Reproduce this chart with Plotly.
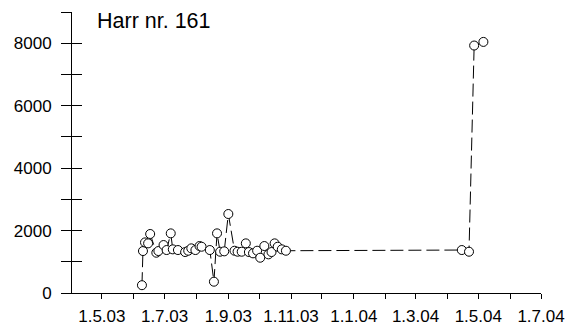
import plotly.graph_objects as go

dates = ["2003-06-09", "2003-06-10", "2003-06-12", "2003-06-15", "2003-06-17",
         "2003-06-23", "2003-06-25", "2003-06-30", "2003-07-03", "2003-07-07",
         "2003-07-09", "2003-07-14", "2003-07-21", "2003-07-24", "2003-07-27",
         "2003-07-31", "2003-08-04", "2003-08-06", "2003-08-14", "2003-08-18",
         "2003-08-21", "2003-08-24", "2003-08-28", "2003-09-01", "2003-09-07",
         "2003-09-10", "2003-09-14", "2003-09-18", "2003-09-21", "2003-09-25",
         "2003-09-29", "2003-10-02", "2003-10-06", "2003-10-10", "2003-10-13",
         "2003-10-16", "2003-10-19", "2003-10-23", "2003-10-27",
         "2004-04-15", "2004-04-22", "2004-04-27", "2004-05-06"]
values = [250, 1344, 1620, 1590, 1890,
          1290, 1344, 1536, 1376, 1910,
          1398, 1376, 1312, 1354, 1430,
          1376, 1504, 1482, 1376, 362,
          1910, 1322, 1334, 2530, 1354,
          1322, 1322, 1590, 1312, 1270,
          1354, 1130, 1504, 1238, 1312,
          1590, 1482, 1398, 1354,
          1376, 1322, 7926, 8042]

title_text = "Harr nr. 161"

y_tickvals = [0, 1000, 2000, 3000, 4000, 5000, 6000, 7000, 8000, 9000]
y_ticktext = ["0", "", "2000", "", "4000", "", "6000", "", "8000", ""]

x_tickvals = ["2003-05-01", "2003-06-01", "2003-07-01", "2003-08-01", "2003-09-01",
              "2003-10-01", "2003-11-01", "2003-12-01", "2004-01-01", "2004-02-01",
              "2004-03-01", "2004-04-01", "2004-05-01", "2004-06-01", "2004-07-01"]
x_ticktext = ["1.5.03", "", "1.7.03", "", "1.9.03", "", "1.11.03", "", "1.1.04", "",
              "1.3.04", "", "1.5.04", "", "1.7.04"]

FONT = "Liberation Sans, Arial, sans-serif"

fig = go.Figure()
fig.add_trace(go.Scatter(
    x=dates, y=values, mode="lines+markers",
    line=dict(color="black", width=1, dash="13px,5px"),
    marker=dict(symbol="circle", size=9, color="white",
                line=dict(color="black", width=1)),
    showlegend=False, cliponaxis=False,
))
# invisible trace on overlay axis to force it to render
fig.add_trace(go.Scatter(x=[dates[0]], y=[values[0]], yaxis="y2",
                         mode="markers", marker=dict(opacity=0),
                         showlegend=False, hoverinfo="skip"))

fig.update_layout(
    width=565, height=334,
    autosize=False,
    showlegend=False,
    margin=dict(l=72, r=24, t=12, b=41, autoexpand=False),
    paper_bgcolor="white", plot_bgcolor="white",
    font=dict(family=FONT, size=17, color="black"),
    xaxis=dict(
        type="date", range=["2003-04-02", "2004-07-01"],
        tickvals=x_tickvals, ticktext=x_ticktext, automargin=False,
        ticks="outside", ticklen=5, tickwidth=1, tickcolor="black",
        showline=True, linecolor="black", linewidth=1,
        showgrid=False, zeroline=False, ticklabelstandoff=3,
    ),
    yaxis=dict(
        range=[0, 9000], tickvals=y_tickvals, ticktext=y_ticktext,
        automargin=False,
        ticks="outside", ticklen=10, tickwidth=1, tickcolor="black",
        showline=True, linecolor="black", linewidth=1,
        showgrid=False, zeroline=False, ticklabelstandoff=6,
    ),
    yaxis2=dict(
        range=[0, 9000], overlaying="y", side="left", anchor="x",
        tickvals=y_tickvals, showticklabels=False, automargin=False,
        ticks="inside", ticklen=10, tickwidth=1, tickcolor="black",
        showline=False, showgrid=False, zeroline=False,
    ),
    annotations=[dict(
        text=title_text, xref="paper", yref="paper",
        x=0.049, y=0.968, xanchor="left", yanchor="middle",
        showarrow=False, font=dict(family=FONT, size=21.5, color="black"),
    )],
)

fig.write_html("out.html")
